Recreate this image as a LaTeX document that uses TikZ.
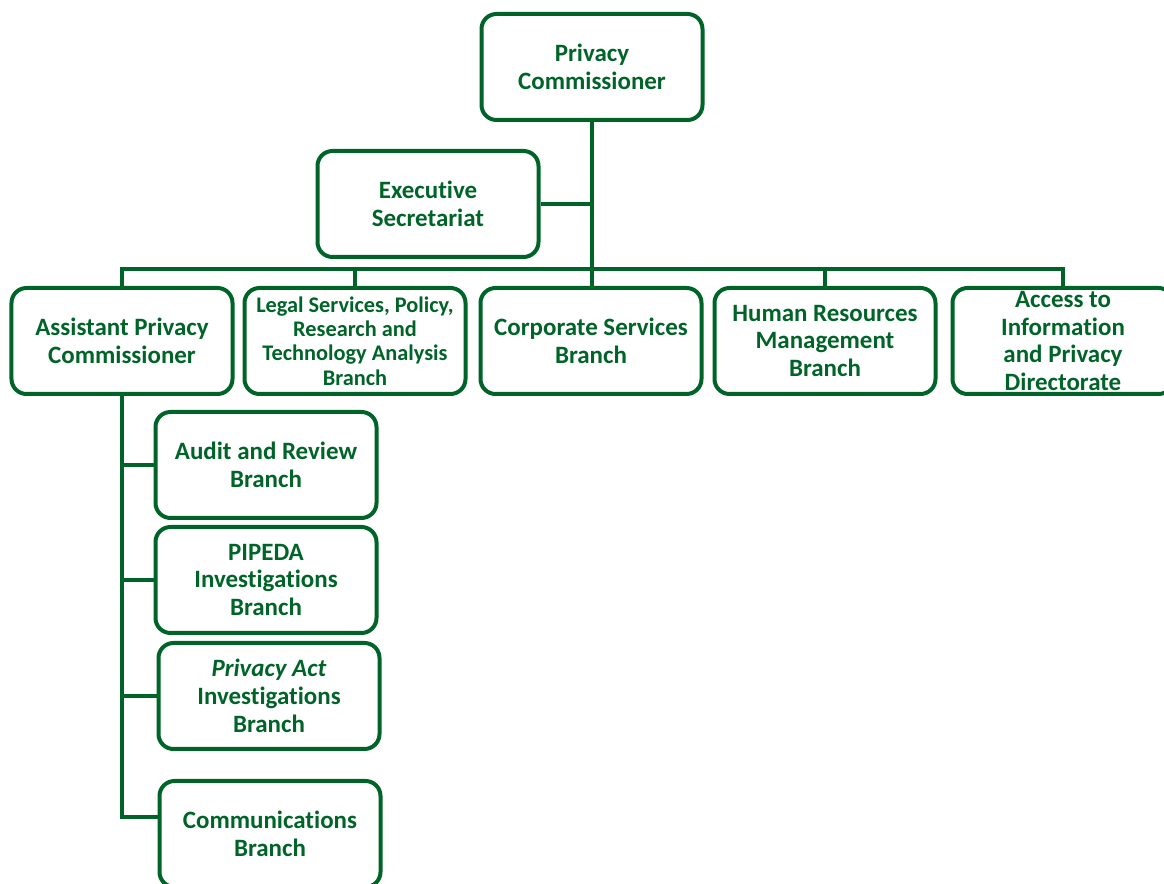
\documentclass[tikz,border=0pt]{standalone}
\usepackage{fontspec}
\setmainfont{Carlito}[Ligatures = NoCommon]
\usepackage{xcolor}
\usepackage{tikz}
\definecolor{opcgreen}{RGB}{0,100,40}

\begin{document}
\begin{tikzpicture}[
	branchbox/.style = {draw = opcgreen, line width = 0.08cm, rounded corners = 0.3cm, rectangle, align = center, minimum width = 4.42cm, minimum height = 2.12cm, inner sep = 1pt, text = opcgreen, font = \bfseries\fontsize{14.2}{15.9}\selectfont},
	smalltext/.style = {font = \bfseries\fontsize{12.7}{13.9}\selectfont},
	link/.style = {draw = opcgreen, line width = 0.08cm}]
	\useasboundingbox (0,0) rectangle (23.28,-17.68);
	\clip (0,0) rectangle (23.28,-17.68);

	\node[branchbox] (pc) at (11.84,-1.34) {Privacy\\Commissioner};
	
	\node[branchbox, below of = pc, xshift = -3.28cm, yshift = -1.74cm] (exec) {Executive\\Secretariat};
	
	\node[branchbox, below of = pc, xshift = -0.02cm, yshift = -4.48cm] (corp) {Corporate Services\\Branch};
	
	\node[branchbox, smalltext, left of = corp, xshift = -3.72cm] (legal) {Legal Services, Policy,\\Research and\\Technology Analysis\\Branch};
	
	\node[branchbox, left of = legal, xshift = -3.66cm] (asc) {Assistant Privacy\\Commissioner};
	
	\node[branchbox, right of = corp, xshift = 3.68cm] (hr) {Human Resources\\Management\\Branch};
	
	\node[branchbox, right of = hr, xshift = 3.76cm] (atip) {Access to\\Information\\and Privacy\\Directorate};
	
	\node[branchbox, below of = asc, xshift = 2.88cm, yshift = -1.48cm] (audit) {Audit and Review\\Branch};
	
	\node[branchbox, below of = audit, yshift = -1.3cm] (pipeda) {PIPEDA\\Investigations\\Branch};
	
	\node[branchbox, below of = pipeda, xshift = 0.06cm, yshift = -1.32cm] (pact) {\textit{Privacy Act}\\Investigations\\Branch};
	
	\node[branchbox, below of = pact, xshift = 0.02cm, yshift = -1.76cm] (comm) {Communications\\Branch};
	
	\draw[link] (pc.south) -- (pc.south |- corp.north);
	
	\draw[link] (exec.east) -- (exec.east -| pc.south);
	
	\draw[link] (asc.north) -- ++(0,0.34) -| (atip.north);
	
	\draw[link] (legal.north) -- ++(0,0.34);
	
	\draw[link] (hr.north) -- ++(0,0.34);
	
	\draw[link] (asc.south) |- ([yshift = 0.34cm]comm.west);
	
	\draw[link] (asc.south |- audit.west) -- (audit.west);
	
	\draw[link] (asc.south |- pipeda.west) -- (pipeda.west);
	
	\draw[link] (asc.south |- pact.west) -- (pact.west);
\end{tikzpicture}
\end{document}
